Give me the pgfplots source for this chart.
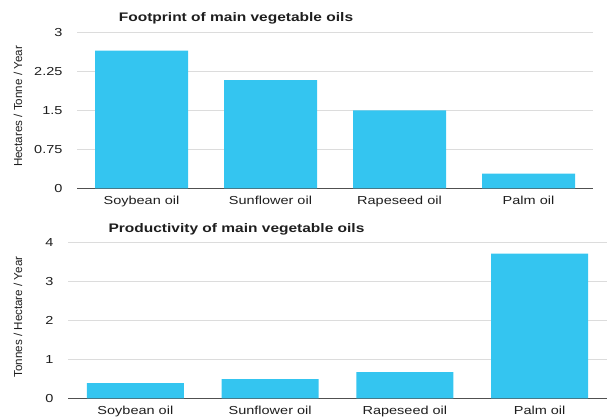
\documentclass[border=0pt]{standalone}
\usepackage{pgfplots}
\pgfplotsset{compat=1.18}
\usepackage{fontspec}
\setmainfont{Liberation Sans}[FakeStretch=1.25]
\newfontfamily\plainsans{Liberation Sans}
\definecolor{barblue}{RGB}{52,197,240}
\definecolor{gridgray}{RGB}{220,220,220}
\definecolor{axisgray}{RGB}{80,80,80}
\definecolor{txt}{RGB}{30,30,30}

\pgfplotsset{
  oilbars/.style={
    ybar,
    scale only axis,
    xmin=-0.5, xmax=3.5,
    ymin=0,
    xtick={0,1,2,3},
    xticklabels={Soybean oil,Sunflower oil,Rapeseed oil,Palm oil},
    axis x line*=bottom,
    axis y line*=left,
    y axis line style={draw=none},
    x axis line style={axisgray, line width=0.9pt, -},
    major tick length=0pt,
    ymajorgrids,
    grid style={gridgray, line width=0.7pt},
    tick label style={font=\fontsize{11.6}{13}\selectfont, text=txt},
    xticklabel style={yshift=-4pt},
    yticklabel style={xshift=-11pt},
    /pgf/number format/assume math mode=true,
    clip=false,
  }
}

\begin{document}
\begin{tikzpicture}[x=1pt,y=1pt]
\path[use as bounding box] (0,0) rectangle (613,418);

% top: footprint
\begin{axis}[oilbars,
  at={(77pt,229.7pt)}, anchor=south west,
  width=516pt, height=156pt,
  ymax=3, ytick={0,0.75,1.5,2.25,3},
  yticklabels={0,0.75,1.5,2.25,3},
  bar width=93pt,
]
\addplot[fill=barblue, draw=none] coordinates {(0,2.65) (1,2.08) (2,1.5) (3,0.28)};
\end{axis}
\node[font=\fontsize{12.4}{14}\selectfont\bfseries, text=txt] at (236,400) {Footprint of main vegetable oils};
\node[rotate=90, font=\plainsans\fontsize{11.6}{13}\selectfont, text=txt] at (18,311.5) {Hectares / Tonne / Year};

% bottom: productivity
\begin{axis}[oilbars,
  at={(68pt,19.7pt)}, anchor=south west,
  width=539pt, height=156pt,
  ymax=4, ytick={0,1,2,3,4},
  bar width=97pt,
]
\addplot[fill=barblue, draw=none] coordinates {(0,0.39) (1,0.49) (2,0.67) (3,3.71)};
\end{axis}
\node[font=\fontsize{12.4}{14}\selectfont\bfseries, text=txt] at (236.5,189) {Productivity of main vegetable oils};
\node[rotate=90, font=\plainsans\fontsize{11.6}{13}\selectfont, text=txt] at (18,101) {Tonnes / Hectare / Year};
\end{tikzpicture}
\end{document}
